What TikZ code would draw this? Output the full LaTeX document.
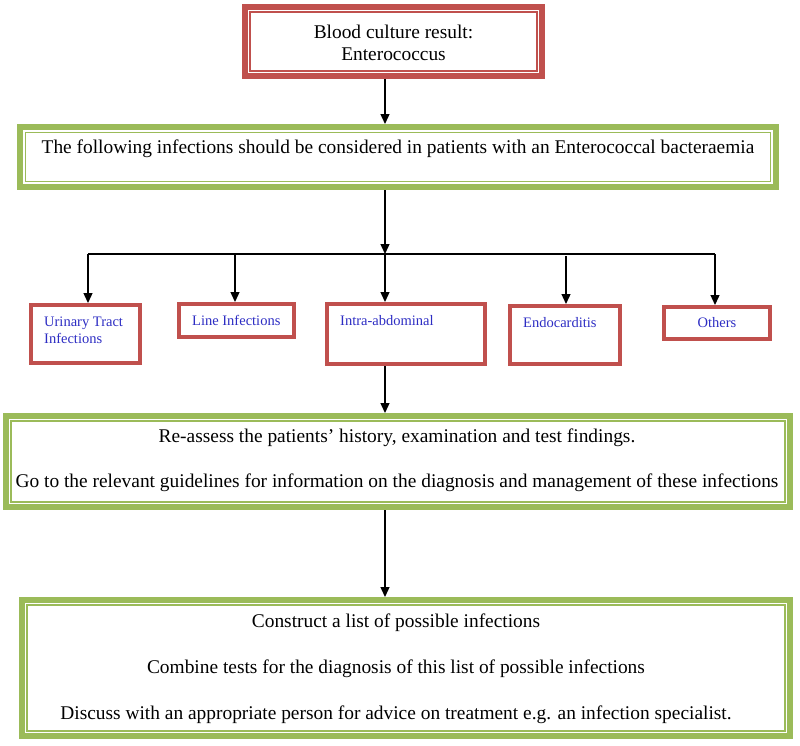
\documentclass[tikz,border=0pt]{standalone}
\usepackage{fontspec}
\setmainfont{Liberation Serif}
\usetikzlibrary{arrows.meta}
\definecolor{bred}{RGB}{192,80,77}
\definecolor{bgreen}{RGB}{155,187,89}
\definecolor{bblue}{RGB}{45,45,195}
\newcommand{\innerframe}[4]{%
  \draw[draw=#2, line width=#4] ([shift={(#3,-#3)}]#1.north west) rectangle ([shift={(-#3,#3)}]#1.south east);}
\begin{document}
\begin{tikzpicture}[x=1pt,y=-1pt,
  redframe/.style={draw=bred, line width=5.5pt, rectangle, inner sep=0pt},
  greenframe/.style={draw=bgreen, line width=6pt, rectangle, inner sep=0pt},
  smallbox/.style={draw=bred, line width=4pt, rectangle, inner sep=0pt},
  bigtext/.style={font=\fontsize{19.4}{22}\selectfont, align=center, inner sep=0pt},
  smalltext/.style={font=\fontsize{14.5}{17}\selectfont, text=bblue, align=left, inner sep=0pt},
  conn/.style={line width=1.3pt, -{Triangle[length=10pt,width=9pt]}},
  plainconn/.style={line width=1.3pt}
]
\useasboundingbox (0,0) rectangle (800,745);

% top box
\node[redframe, minimum width=297pt, minimum height=69pt] (top) at (393.5,41.5) {};
\innerframe{top}{bred}{8pt}{1.6pt}
\node[bigtext] (topT) at (393.5,42.5) {Blood culture result:\\Enterococcus};

% box 2
\node[greenframe, minimum width=756pt, minimum height=60pt] (inf) at (398,157) {};
\innerframe{inf}{bgreen}{8.5pt}{1.8pt}
\node[bigtext] (infT) at (398,149) {The following infections should be considered in patients with an Enterococcal bacteraemia};

% small boxes
\node[smallbox, minimum width=109pt, minimum height=58pt] (uti) at (85.5,334) {};
\node[smalltext, anchor=west] (utiT) at (44,330.5) {Urinary Tract\\Infections};
\node[smallbox, minimum width=115pt, minimum height=33pt] (line) at (236.5,320.5) {};
\node[smalltext, anchor=west] (lineT) at (192,320) {Line Infections};
\node[smallbox, minimum width=158pt, minimum height=60pt] (intra) at (406,334) {};
\node[smalltext, anchor=west] (intraT) at (340,321) {Intra-abdominal};
\node[smallbox, minimum width=110pt, minimum height=58pt] (endo) at (565,335) {};
\node[smalltext, anchor=west] (endoT) at (523,323) {Endocarditis};
\node[smallbox, minimum width=106pt, minimum height=32pt] (oth) at (717,323) {};
\node[smalltext] (othT) at (717,323) {Others};

% box 3
\node[greenframe, minimum width=784.3pt, minimum height=91pt] (reas) at (397.85,461.5) {};
\innerframe{reas}{bgreen}{8pt}{1.8pt}
\node[bigtext] (reasA) at (397,438) {Re-assess the patients’ history, examination and test findings.};
\node[bigtext] (reasB) at (397,483) {Go to the relevant guidelines for information on the diagnosis and management of these infections};

% box 4
\node[greenframe, minimum width=768pt, minimum height=136pt] (cons) at (406,668) {};
\innerframe{cons}{bgreen}{8pt}{1.8pt}
\node[bigtext] (consA) at (396,623) {Construct a list of possible infections};
\node[bigtext] (consB) at (396,669) {Combine tests for the diagnosis of this list of possible infections};
\node[bigtext] (consC) at (396,715) {Discuss with an appropriate person for advice on treatment e.g. an infection specialist.};

% connectors
\coordinate (jn) at (385,254);
\coordinate (hl) at (88,254);
\coordinate (hr) at (715,254);
\coordinate (hlin) at (235,254);
\coordinate (hendo) at (566,256);
\draw[conn] (top.south -| jn) -- (inf.north -| jn);
\draw[conn] (inf.south -| jn) -- (jn);
\draw[plainconn] (hl) -- (hr);
\draw[conn] (hl) -- (uti.north -| hl);
\draw[conn] (hlin) -- (line.north -| hlin);
\draw[conn] (jn) -- (intra.north -| jn);
\draw[conn] (hendo) -- (endo.north -| hendo);
\draw[conn] (hr) -- (oth.north -| hr);
\draw[conn] (intra.south -| jn) -- (reas.north -| jn);
\draw[conn] (reas.south -| jn) -- (cons.north -| jn);
\end{tikzpicture}
\end{document}
